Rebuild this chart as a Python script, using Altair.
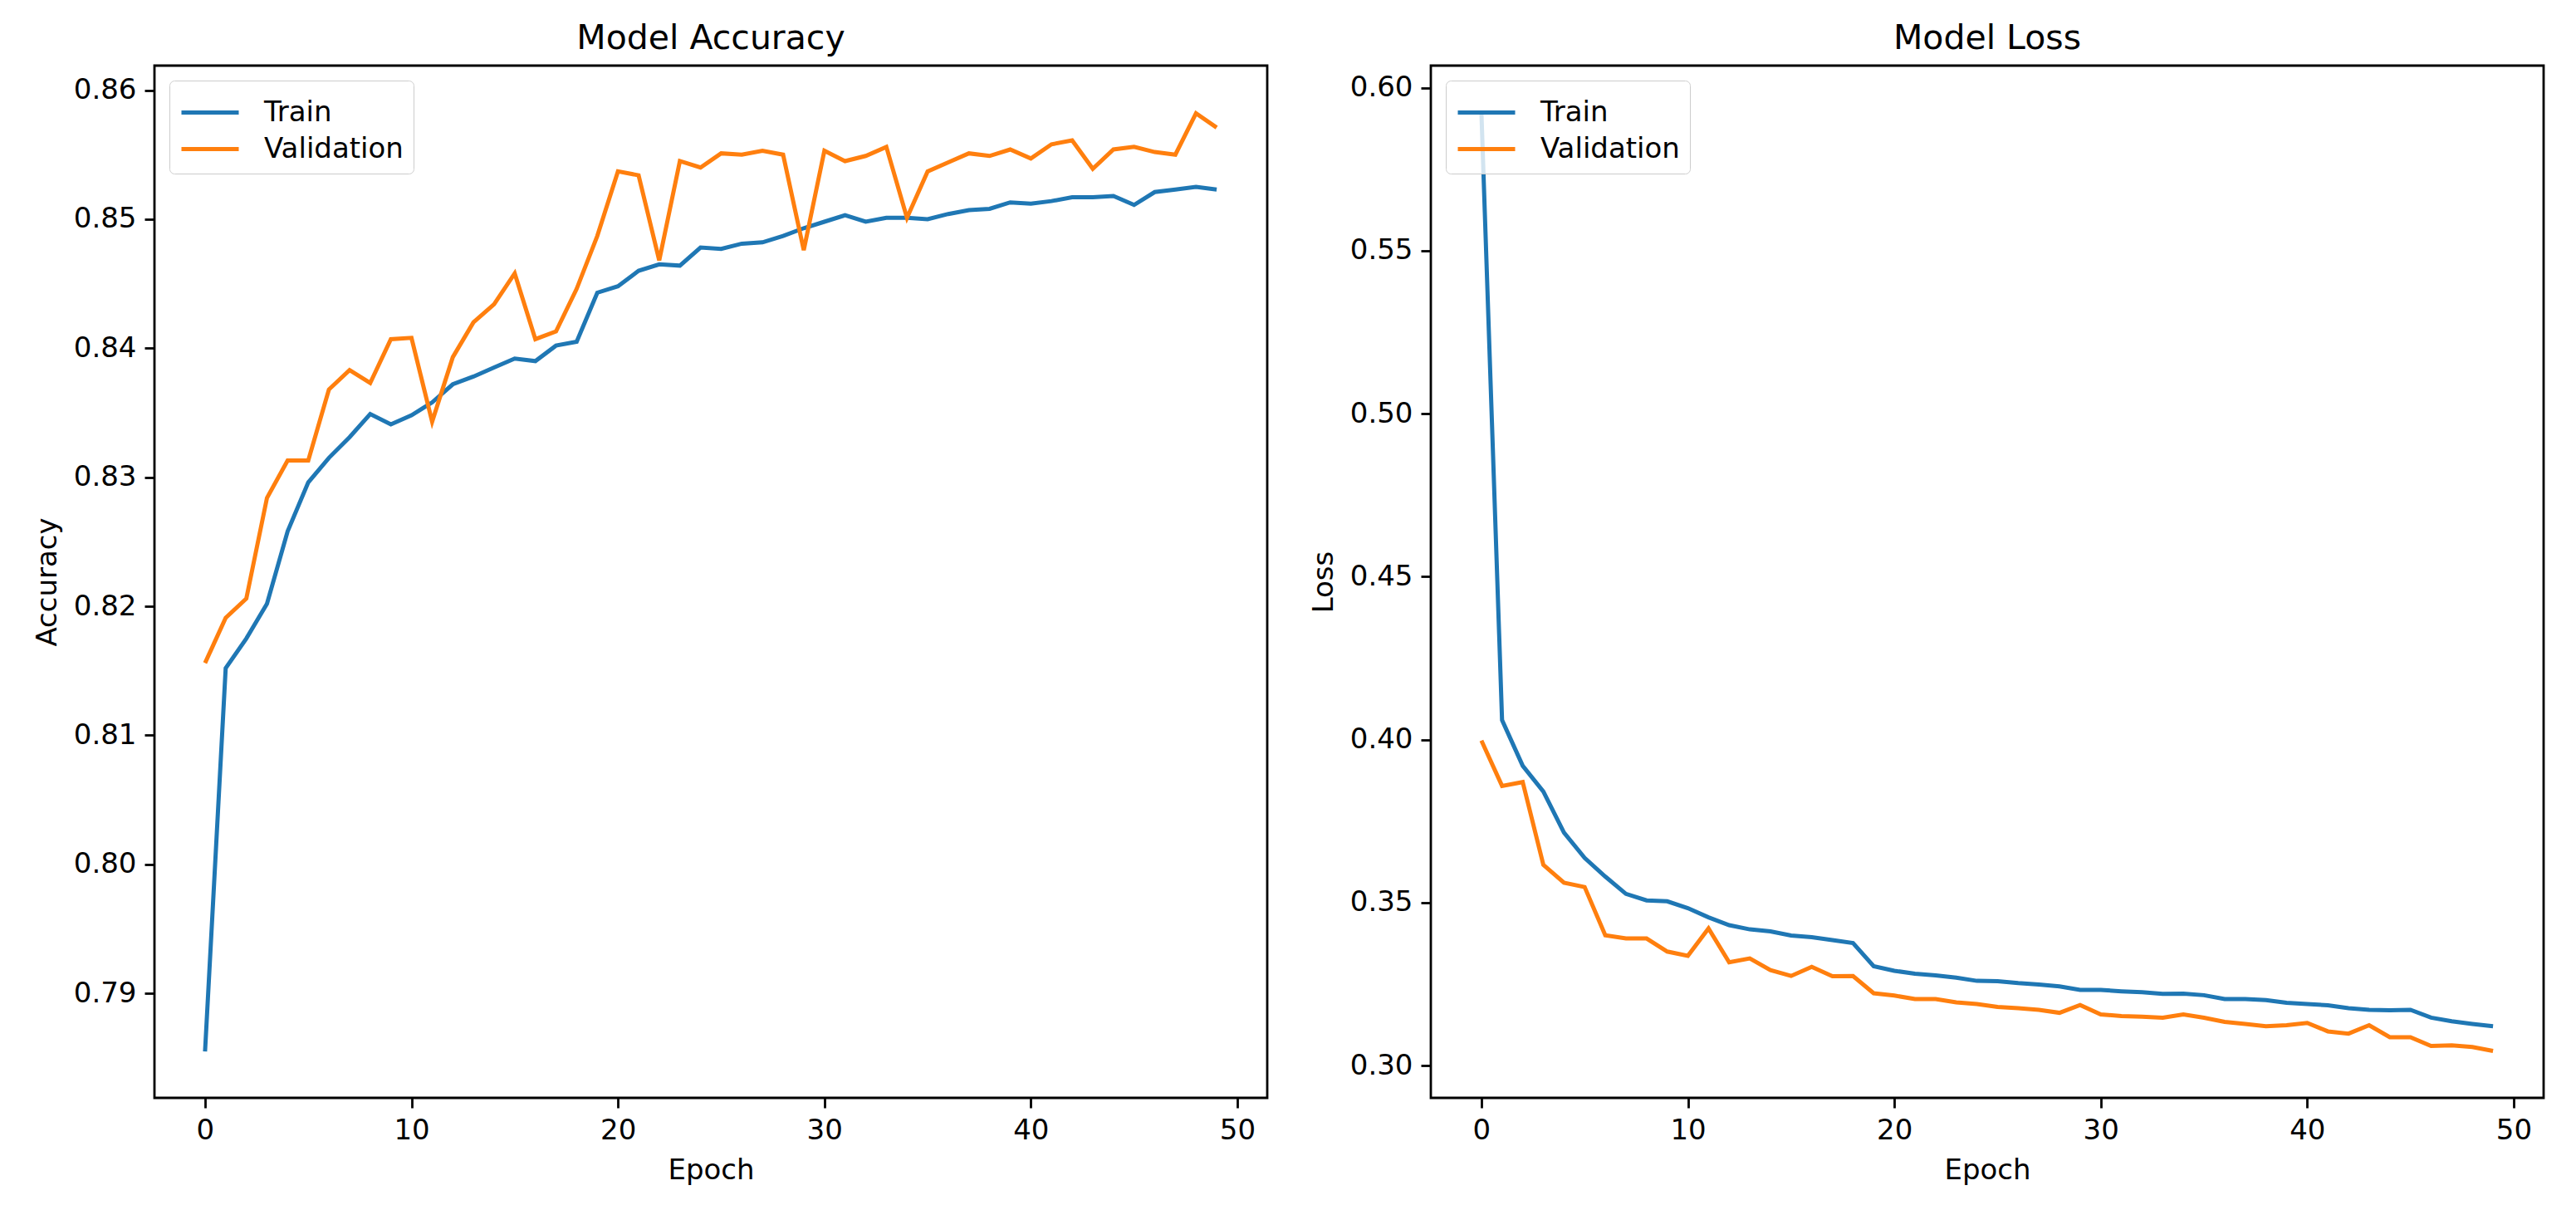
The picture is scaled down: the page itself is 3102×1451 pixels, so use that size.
import altair as alt
import pandas as pd

epochs = list(range(50))

train_acc = [0.7855, 0.8152, 0.8175, 0.8202, 0.8258, 0.8296, 0.8315, 0.8331, 0.8349, 0.8341,
             0.8348, 0.8358, 0.8372, 0.8378, 0.8385, 0.8392, 0.8390, 0.8402, 0.8405, 0.8443,
             0.8448, 0.8460, 0.8465, 0.8464, 0.8478, 0.8477, 0.8481, 0.8482, 0.8487, 0.8493,
             0.8498, 0.8503, 0.8498, 0.8501, 0.8501, 0.8500, 0.8504, 0.8507, 0.8508, 0.8513,
             0.8512, 0.8514, 0.8517, 0.8517, 0.8518, 0.8511, 0.8521, 0.8523, 0.8525, 0.8523]

val_acc = [0.8156, 0.8191, 0.8206, 0.8284, 0.8313, 0.8313, 0.8368, 0.8383, 0.8373, 0.8407,
           0.8408, 0.8343, 0.8393, 0.8420, 0.8434, 0.8458, 0.8407, 0.8413, 0.8446, 0.8487,
           0.8537, 0.8534, 0.8468, 0.8545, 0.8540, 0.8551, 0.8550, 0.8553, 0.8550, 0.8476,
           0.8553, 0.8545, 0.8549, 0.8556, 0.8501, 0.8537, 0.8544, 0.8551, 0.8549, 0.8554,
           0.8547, 0.8558, 0.8561, 0.8539, 0.8554, 0.8556, 0.8552, 0.8550, 0.8582, 0.8571]

train_loss = [0.5924, 0.4060, 0.3920, 0.3841, 0.3715, 0.3637, 0.3580, 0.3527, 0.3507, 0.3504,
              0.3483, 0.3455, 0.3431, 0.3418, 0.3412, 0.3399, 0.3394, 0.3385, 0.3376, 0.3305,
              0.3291, 0.3282, 0.3277, 0.3270, 0.3260, 0.3259, 0.3253, 0.3249, 0.3243, 0.3232,
              0.3232, 0.3228, 0.3225, 0.3220, 0.3221, 0.3216, 0.3204, 0.3204, 0.3201, 0.3193,
              0.3189, 0.3185, 0.3176, 0.3171, 0.3170, 0.3171, 0.3147, 0.3136, 0.3128, 0.3121]

val_loss = [0.3997, 0.3858, 0.3870, 0.3616, 0.3561, 0.3548, 0.3400, 0.3390, 0.3390, 0.3350,
            0.3337, 0.3421, 0.3317, 0.3329, 0.3293, 0.3275, 0.3303, 0.3274, 0.3275, 0.3222,
            0.3215, 0.3204, 0.3204, 0.3194, 0.3189, 0.3180, 0.3176, 0.3171, 0.3162, 0.3186,
            0.3157, 0.3152, 0.3150, 0.3147, 0.3157, 0.3147, 0.3134, 0.3128, 0.3121, 0.3124,
            0.3131, 0.3105, 0.3098, 0.3124, 0.3087, 0.3087, 0.3060, 0.3062, 0.3057, 0.3045]

series_names = ["Train", "Validation"]
colors = ["#1f77b4", "#ff7f0e"]
x_ticks = [0, 10, 20, 30, 40, 50]
acc_ticks = [0.79, 0.80, 0.81, 0.82, 0.83, 0.84, 0.85, 0.86]
loss_ticks = [0.30, 0.35, 0.40, 0.45, 0.50, 0.55, 0.60]

acc_df = pd.DataFrame({
    "Epoch": epochs + epochs,
    "value": train_acc + val_acc,
    "series": ["Train"] * 50 + ["Validation"] * 50,
})
loss_df = pd.DataFrame({
    "Epoch": epochs + epochs,
    "value": train_loss + val_loss,
    "series": ["Train"] * 50 + ["Validation"] * 50,
})

FONT = "DejaVu Sans"
FS = 34
W, H = 1340, 1243


def axis(values, fmt=None, title=""):
    kw = dict(values=values, title=title, grid=False, domain=False,
              tickColor="black", tickWidth=2.8, tickSize=12,
              labelFont=FONT, labelFontSize=FS, labelColor="black", labelPadding=10,
              titleFont=FONT, titleFontSize=FS, titleFontWeight="normal",
              titleColor="black", titlePadding=14)
    if fmt:
        kw["format"] = fmt
    return alt.Axis(**kw)


def panel(df, title, ytitle, ydomain, yticks):
    return alt.Chart(df).mark_line(strokeWidth=5).encode(
        x=alt.X("Epoch:Q", scale=alt.Scale(domain=[-2.45, 51.45], nice=False, zero=False),
                axis=axis(x_ticks, title="Epoch")),
        y=alt.Y("value:Q", scale=alt.Scale(domain=ydomain, nice=False, zero=False),
                axis=axis(yticks, fmt=".2f", title=ytitle)),
        color=alt.Color("series:N",
                        scale=alt.Scale(domain=series_names, range=colors),
                        legend=alt.Legend(title=None, orient="top-left", offset=18,
                                          symbolType="M-1,0H1.875", symbolSize=2304,
                                          symbolStrokeWidth=5, labelFont=FONT,
                                          labelFontSize=FS, labelColor="black",
                                          labelOffset=49, rowPadding=0, labelLimit=0,
                                          padding=12, strokeColor="#cccccc",
                                          fillColor="rgba(255,255,255,0.8)",
                                          cornerRadius=6)),
    ).properties(
        width=W, height=H,
        title=alt.TitleParams(title, font=FONT, fontSize=41, fontWeight="normal",
                              color="black", offset=11, anchor="middle"),
    )


acc = panel(acc_df, "Model Accuracy", "Accuracy", [0.7819, 0.8619], acc_ticks)
loss = panel(loss_df, "Model Loss", "Loss", [0.2901, 0.6068], loss_ticks)

chart = alt.hconcat(acc, loss, spacing=47).resolve_scale(color="independent").properties(
    padding={"left": 30, "top": 16, "right": 5, "bottom": 2}
).configure(
    background="white",
    view=alt.ViewConfig(stroke="black", strokeWidth=2.8),
)

chart.save("out.html", embed_options={"renderer": "svg", "actions": False})
